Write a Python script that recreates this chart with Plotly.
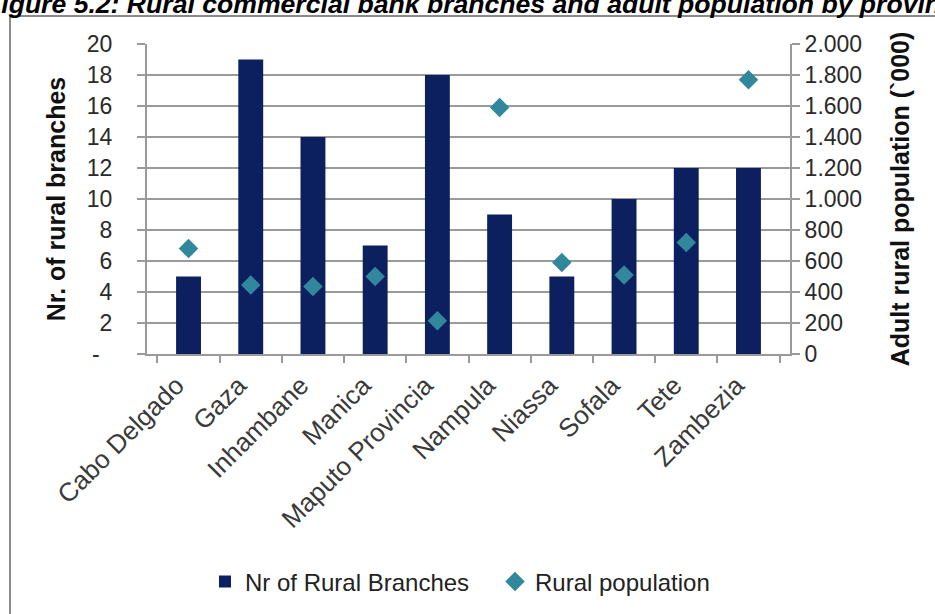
import plotly.graph_objects as go

provinces = ["Cabo Delgado", "Gaza", "Inhambane", "Manica", "Maputo Provincia",
             "Nampula", "Niassa", "Sofala", "Tete", "Zambezia"]
branches = [5, 19, 14, 7, 18, 9, 5, 10, 12, 12]
rural_pop = [680, 445, 435, 500, 215, 1590, 590, 510, 720, 1770]

left_ticks = [0, 2, 4, 6, 8, 10, 12, 14, 16, 18, 20]
left_ticktext = ["-\u2007", "2", "4", "6", "8", "10", "12", "14", "16", "18", "20"]
right_ticks = [0, 200, 400, 600, 800, 1000, 1200, 1400, 1600, 1800, 2000]
right_ticktext = ["0", "200", "400", "600", "800", "1.000", "1.200", "1.400", "1.600", "1.800", "2.000"]

W, H = 935, 614
L, R, T, B = 147, 145, 44, 259
pw, ph = W - L - R, H - T - B

def px(x):
    return (x - L) / pw

def py(y):
    return (H - B - y) / ph

FONT = "Liberation Sans, Arial, sans-serif"

fig = go.Figure()
fig.add_trace(go.Bar(
    x=provinces, y=branches, name="Nr of Rural Branches",
    marker=dict(color="#0C1F5E", line=dict(width=0)), yaxis="y",
))
fig.add_trace(go.Scatter(
    x=provinces, y=rural_pop, name="Rural population", mode="markers",
    marker=dict(symbol="diamond", size=15, color="#31879B"), yaxis="y2",
))

grid = "#9a9a9a"
fig.update_layout(
    width=W, height=H,
    margin=dict(l=L, r=R, t=T, b=B),
    paper_bgcolor="white", plot_bgcolor="white",
    font=dict(family=FONT, color="#222", size=23),
    bargap=0.6,
    showlegend=True,
    legend=dict(orientation="h", x=px(205), xanchor="left", y=py(582), yanchor="middle",
                font=dict(size=24, color="#222"), itemwidth=30, traceorder="normal",
                entrywidth=245),
    xaxis=dict(
        tickangle=-45, tickfont=dict(size=26, color="#3a3a3a"),
        ticklabelshift=-12, ticklabelstandoff=4,
        showline=True, linecolor=grid, linewidth=2,
        ticks="outside", ticklen=7, tickcolor=grid, tickwidth=1.5,
        tickson="boundaries", showgrid=False,
    ),
    yaxis=dict(
        range=[0, 20], tickvals=left_ticks, ticktext=left_ticktext,
        tickfont=dict(size=23, color="#2a2a2a"), ticklabelstandoff=20,
        showgrid=True, gridcolor=grid, gridwidth=2,
        showline=True, linecolor=grid, linewidth=2,
        ticks="outside", ticklen=8, tickcolor=grid, tickwidth=1.5,
        title=dict(text="<b>Nr. of rural branches</b>", font=dict(size=25, color="#111"), standoff=14),
        zeroline=False,
    ),
    yaxis2=dict(
        range=[0, 2000], tickvals=right_ticks, ticktext=right_ticktext,
        tickfont=dict(size=23, color="#2a2a2a"),
        overlaying="y", side="right", showgrid=False,
        showline=True, linecolor=grid, linewidth=2,
        ticks="outside", ticklen=8, tickcolor=grid, tickwidth=1.5,
        title=dict(text="<b>Adult rural population (`000)</b>", font=dict(size=25, color="#111"), standoff=30),
        zeroline=False,
    ),
)

fig.add_shape(type="rect", xref="paper", yref="paper",
              x0=px(10), x1=px(960), y0=py(16), y1=py(640),
              line=dict(color="#8a8a8a", width=2), layer="below")

fig.add_annotation(
    text="<b><i>Figure 5.2: Rural commercial bank branches and adult population by province</i></b>",
    xref="paper", yref="paper", x=px(-17), y=py(4), xanchor="left", yanchor="middle",
    showarrow=False, font=dict(size=26.6, color="#000", family=FONT),
)

fig.write_html("out.html", config={"displayModeBar": False},
               post_script="document.body.style.margin='0';")
